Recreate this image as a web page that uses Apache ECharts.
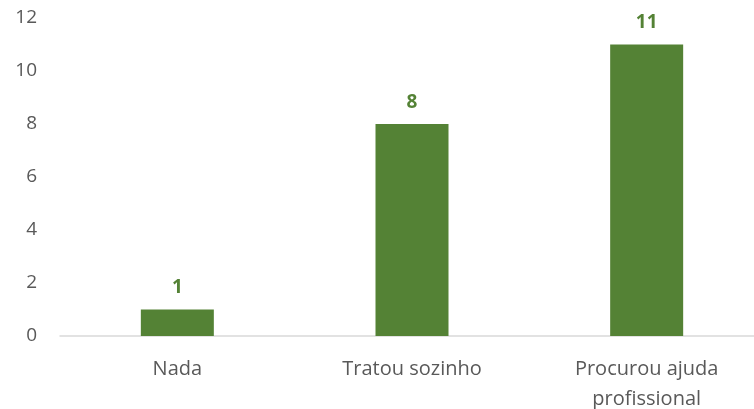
<!DOCTYPE html>
<html>
<head>
<meta charset="utf-8">
<script src="https://cdn.jsdelivr.net/npm/echarts@6/dist/echarts.min.js"></script>
<style>
  html, body { margin: 0; padding: 0; background: #fff; }
  #myChart { width: 754px; height: 409px; }
</style>
</head>
<body>
<div id="myChart"></div>
<script>
// categorias e valores
const categories = ['Nada', 'Tratou sozinho', 'Procurou ajuda\nprofissional'];
const values = [1, 8, 11];
const yTicks = { min: 0, max: 12, interval: 2 };

let myChart = echarts.init(document.getElementById('myChart'));
myChart.setOption({
  animation: false,
  grid: {
    left: 60,
    width: 704,
    top: 18,
    height: 318,
    outerBoundsMode: 'none',
    containLabel: false
  },
  xAxis: {
    type: 'category',
    data: categories,
    axisLine: { lineStyle: { color: '#d9d9d9', width: 1.5 } },
    axisTick: { show: false },
    axisLabel: {
      color: '#595959',
      fontFamily: 'Open Sans',
      fontSize: 20,
      lineHeight: 30,
      margin: 18
    }
  },
  yAxis: {
    type: 'value',
    min: yTicks.min,
    max: yTicks.max,
    interval: yTicks.interval,
    splitLine: { show: false },
    axisLine: { show: false },
    axisTick: { show: false },
    axisLabel: {
      color: '#595959',
      fontFamily: 'Open Sans',
      fontSize: 19,
      margin: 23
    }
  },
  series: [{
    type: 'bar',
    data: values,
    barWidth: 73,
    itemStyle: { color: '#548235' },
    label: {
      show: true,
      position: 'top',
      distance: 12,
      color: '#548235',
      fontWeight: 'bold',
      fontFamily: 'Open Sans',
      fontSize: 19
    }
  }]
});
</script>
</body>
</html>
